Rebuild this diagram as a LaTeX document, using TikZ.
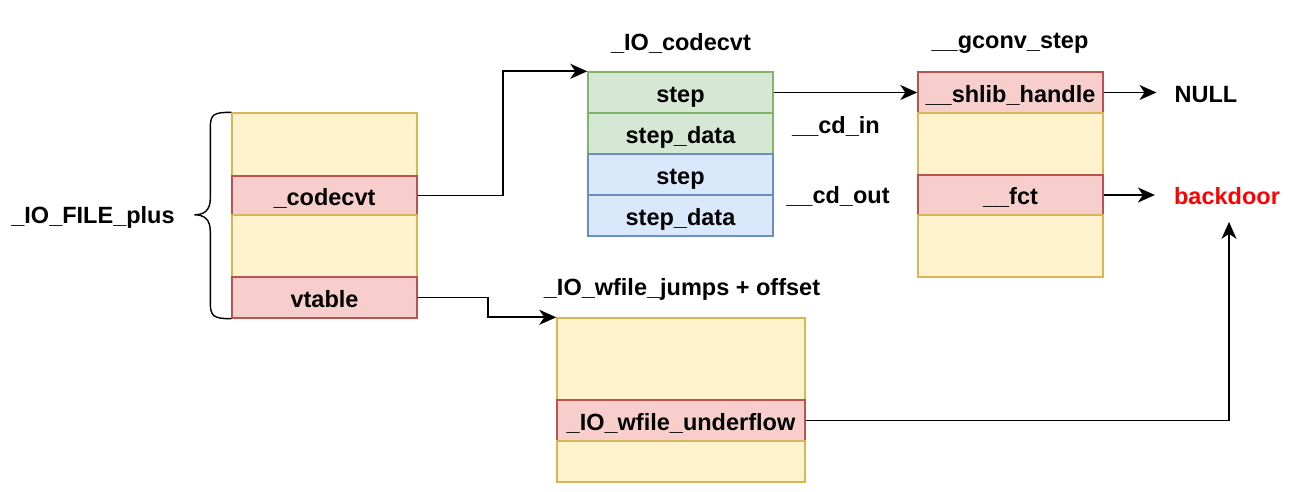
\documentclass[tikz,border=0pt]{standalone}
\usepackage{fontspec}
\setmainfont{Liberation Sans}
\usetikzlibrary{arrows.meta,calc}
\definecolor{ylwF}{HTML}{FFF2CC}\definecolor{ylwD}{HTML}{D6B656}
\definecolor{redF}{HTML}{F8CECC}\definecolor{redD}{HTML}{B85450}
\definecolor{grnF}{HTML}{D5E8D4}\definecolor{grnD}{HTML}{82B366}
\definecolor{bluF}{HTML}{DAE8FC}\definecolor{bluD}{HTML}{6C8EBF}
\definecolor{bdred}{HTML}{FF0000}
\tikzset{
  cell/.style={draw, line width=1.4pt, inner sep=0pt, minimum width=185pt, text height=19.5pt, text depth=0pt, font=\fontsize{23.5}{28}\selectfont\bfseries},
  ycell/.style={cell, fill=ylwF, draw=ylwD},
  rcell/.style={cell, fill=redF, draw=redD},
  gcell/.style={cell, fill=grnF, draw=grnD},
  bcell/.style={cell, fill=bluF, draw=bluD},
  lbl/.style={inner sep=0pt, font=\fontsize{23.5}{28}\selectfont\bfseries},
  arr/.style={line width=1.8pt, -{Stealth[length=17pt,width=15pt,inset=5pt]}},
}
\begin{document}
\begin{tikzpicture}[x=1pt,y=-1pt]
\useasboundingbox (0,0) rectangle (1291,491);
% _IO_FILE_plus
\node[ycell, minimum height=63pt] (f1) at (324.5,144.5) {};
\node[rcell, minimum height=39pt] (f2) at (324.5,195.5) {\_codecvt};
\node[ycell, minimum height=62pt] (f3) at (324.5,246) {};
\node[rcell, minimum height=41pt] (f4) at (324.5,297.5) {vtable};
\node[lbl] (fp) at (93,217) {\_IO\_FILE\_plus};
% brace
\draw[line width=1.4pt] (f1.north west) .. controls ++(-18,0) and ++(0,-14) .. ++(-21,16) -- ++(0,70)
  .. controls ++(0,12) and ++(10,0) .. ++(-16,16.5)
  .. controls ++(10,0) and ++(0,-12) .. ++(16,16.5) -- ++(0,71)
  .. controls ++(0,14) and ++(-18,0) .. (f4.south west);
% _IO_codecvt
\node[lbl] (cvl) at (681,43) {\_IO\_codecvt};
\node[gcell, minimum height=41pt] (c1) at (680.5,92.5) {step};
\node[gcell, minimum height=41pt] (c2) at (680.5,133.5) {step\_data};
\node[bcell, minimum height=41pt] (c3) at (680.5,174.5) {step};
\node[bcell, minimum height=41pt] (c4) at (680.5,215.5) {step\_data};
\node[lbl] (cdin) at (836,126) {\_\_cd\_in};
\node[lbl] (cdout) at (838,196) {\_\_cd\_out};
% __gconv_step
\node[lbl] (gsl) at (1010,43) {\_\_gconv\_step};
\node[rcell, minimum height=41pt] (g1) at (1010.5,92.5) {\_\_shlib\_handle};
\node[ycell, minimum height=62pt] (g2) at (1010.5,144) {};
\node[rcell, minimum height=40pt] (g3) at (1010.5,195) {\_\_fct};
\node[ycell, minimum height=62pt] (g4) at (1010.5,246) {};
\node[lbl] (null) at (1206,95) {NULL};
\node[lbl, text=bdred] (bd) at (1227,196) {backdoor};
% _IO_wfile_jumps
\node[lbl] (wjl) at (682,289) {\_IO\_wfile\_jumps + offset};
\node[ycell, minimum width=248pt, minimum height=82pt] (w1) at (681,359) {};
\node[rcell, minimum width=248pt, minimum height=41pt] (w2) at (681,420.5) {\_IO\_wfile\_underflow};
\node[ycell, minimum width=248pt, minimum height=41pt] (w3) at (681,461.5) {};
% connectors
\draw[arr] (f2.east) -- ++(85,0) |- (c1.north west);
\draw[arr] (f4.east) -- ++(70,0) |- (w1.north west);
\draw[arr] (c1.east) -- (g1.west);
\draw[arr, shorten >=18pt] (g1.east) -- (g1.east -| null.west);
\draw[arr, shorten >=19pt] (g3.east) -- (g3.east -| bd.west);
\coordinate (bdin) at ($(bd.south)+(2,17)$);
\draw[arr] (w2.east) -| (bdin);
\end{tikzpicture}
\end{document}
